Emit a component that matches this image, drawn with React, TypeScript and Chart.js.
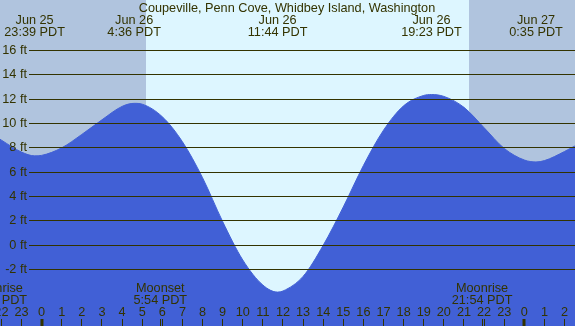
import React, { useEffect, useRef } from "react";
import { Chart, registerables } from "chart.js";

Chart.register(...registerables);

// Hours since Jun 26 00:00 PDT, tide height in feet
const tideHours = [-3, -2, -1, -0.35, 0, 1, 2, 3, 4, 4.6, 5, 6, 7, 8, 9, 10, 11, 11.73, 12, 13, 14, 15, 16, 17, 18, 19, 19.38, 20, 21, 22, 23, 24, 24.58, 25, 26, 27];
const tideFeet = [9.7, 8.63, 7.65, 7.34, 7.38, 8.0, 9.1, 10.3, 11.4, 11.65, 11.58, 10.55, 8.5, 5.55, 1.95, -1.2, -3.26, -3.84, -3.75, -2.55, 0.0, 3.15, 6.55, 9.45, 11.45, 12.3, 12.37, 12.22, 11.32, 9.65, 7.95, 7.0, 6.84, 6.95, 7.7, 8.6];

const extremeHours = [-0.35, 4.6, 11.733, 19.383, 24.583];
const extremeDates = ["Jun 25", "Jun 26", "Jun 26", "Jun 26", "Jun 27"];
const extremeTimes = ["23:39 PDT", "4:36 PDT", "11:44 PDT", "19:23 PDT", "0:35 PDT"];

const moonHours = [-2.23, 5.9, 21.9];
const moonEvents = ["Moonrise", "Moonset", "Moonrise"];
const moonTimes = ["21:46 PDT", "5:54 PDT", "21:54 PDT"];

const sunriseHour = 5.2;
const sunsetHour = 21.25;

const gridFeet = [16, 14, 12, 10, 8, 6, 4, 2, 0, -2];
const hourTicks = [-2, -1, 0, 1, 2, 3, 4, 5, 6, 7, 8, 9, 10, 11, 12, 13, 14, 15, 16, 17, 18, 19, 20, 21, 22, 23, 24, 25, 26];

const title = "Coupeville, Penn Cove, Whidbey Island, Washington";

const X_MIN = -2.07;
const X_MAX = 26.52;
const Y_MIN = -6.62;
const Y_MAX = 20.13;

const NIGHT = "#b0c4de";
const DAY = "#ddf6ff";
const WATER = "#4160d6";
const INK = "#333300";
const FONT = '12.7px "Liberation Sans", Arial, sans-serif';

const decorPlugin = {
  id: "tideDecor",
  beforeDatasetsDraw(chart: any) {
    const { ctx, width, height } = chart;
    const x = chart.scales.x;
    const sr = Math.round(x.getPixelForValue(sunriseHour));
    const ss = Math.round(x.getPixelForValue(sunsetHour));
    ctx.save();
    ctx.fillStyle = NIGHT;
    ctx.fillRect(0, 0, sr, height);
    ctx.fillStyle = DAY;
    ctx.fillRect(sr, 0, ss - sr, height);
    ctx.fillStyle = NIGHT;
    ctx.fillRect(ss, 0, width - ss, height);
    ctx.restore();
  },
  afterDatasetsDraw(chart: any) {
    const { ctx, width, height } = chart;
    const x = chart.scales.x;
    const y = chart.scales.y;
    ctx.save();
    ctx.font = FONT;
    ctx.fillStyle = INK;
    ctx.strokeStyle = INK;

    gridFeet.forEach((v) => {
      const py = Math.floor(y.getPixelForValue(v)) + 0.5;
      ctx.lineWidth = 1;
      ctx.beginPath();
      ctx.moveTo(29, py);
      ctx.lineTo(width, py);
      ctx.stroke();
      ctx.textAlign = "right";
      ctx.textBaseline = "alphabetic";
      ctx.fillText(`${v} ft`, 27, py + 3.5);
    });

    ctx.textAlign = "center";
    ctx.textBaseline = "alphabetic";
    ctx.fillText(title, 287, 12);

    extremeHours.forEach((h, i) => {
      const px = x.getPixelForValue(h);
      ctx.fillText(extremeDates[i], px, 24);
      ctx.fillText(extremeTimes[i], px, 36);
    });

    moonHours.forEach((h, i) => {
      const px = x.getPixelForValue(h);
      ctx.fillText(moonEvents[i], px, 292);
      ctx.fillText(moonTimes[i], px, 304);
      ctx.lineWidth = 1;
      ctx.beginPath();
      ctx.moveTo(Math.floor(px) + 0.5, 319);
      ctx.lineTo(Math.floor(px) + 0.5, height);
      ctx.stroke();
    });

    hourTicks.forEach((h) => {
      const px = x.getPixelForValue(h);
      const label = String(((h % 24) + 24) % 24);
      ctx.fillText(label, px, 316);
      if (label === "0") {
        ctx.fillRect(Math.round(px) - 1.5, 319, 3, height - 319);
      } else {
        ctx.lineWidth = 1;
        ctx.beginPath();
        ctx.moveTo(Math.floor(px) + 0.5, 319);
        ctx.lineTo(Math.floor(px) + 0.5, height);
        ctx.stroke();
      }
    });
    ctx.restore();
  },
};

export default function App() {
  const ref = useRef<HTMLCanvasElement | null>(null);

  useEffect(() => {
    document.body.style.margin = "0";
    const canvas = ref.current;
    if (!canvas) return;
    const chart = new Chart(canvas, {
      type: "line",
      data: {
        datasets: [
          {
            data: tideHours.map((h, i) => ({ x: h, y: tideFeet[i] })),
            borderColor: WATER,
            borderWidth: 1,
            backgroundColor: WATER,
            fill: "start",
            pointRadius: 0,
            cubicInterpolationMode: "monotone",
          },
        ],
      },
      options: {
        animation: false,
        responsive: false,
        devicePixelRatio: 1,
        layout: { padding: 0 },
        plugins: { legend: { display: false }, tooltip: { enabled: false }, title: { display: false } },
        scales: {
          x: { type: "linear", min: X_MIN, max: X_MAX, display: false },
          y: { type: "linear", min: Y_MIN, max: Y_MAX, display: false },
        },
      },
      plugins: [decorPlugin],
    });
    return () => chart.destroy();
  }, []);

  return (
    <div style={{ width: 575, height: 326 }}>
      <canvas ref={ref} width={575} height={326} style={{ display: "block" }} />
    </div>
  );
}
